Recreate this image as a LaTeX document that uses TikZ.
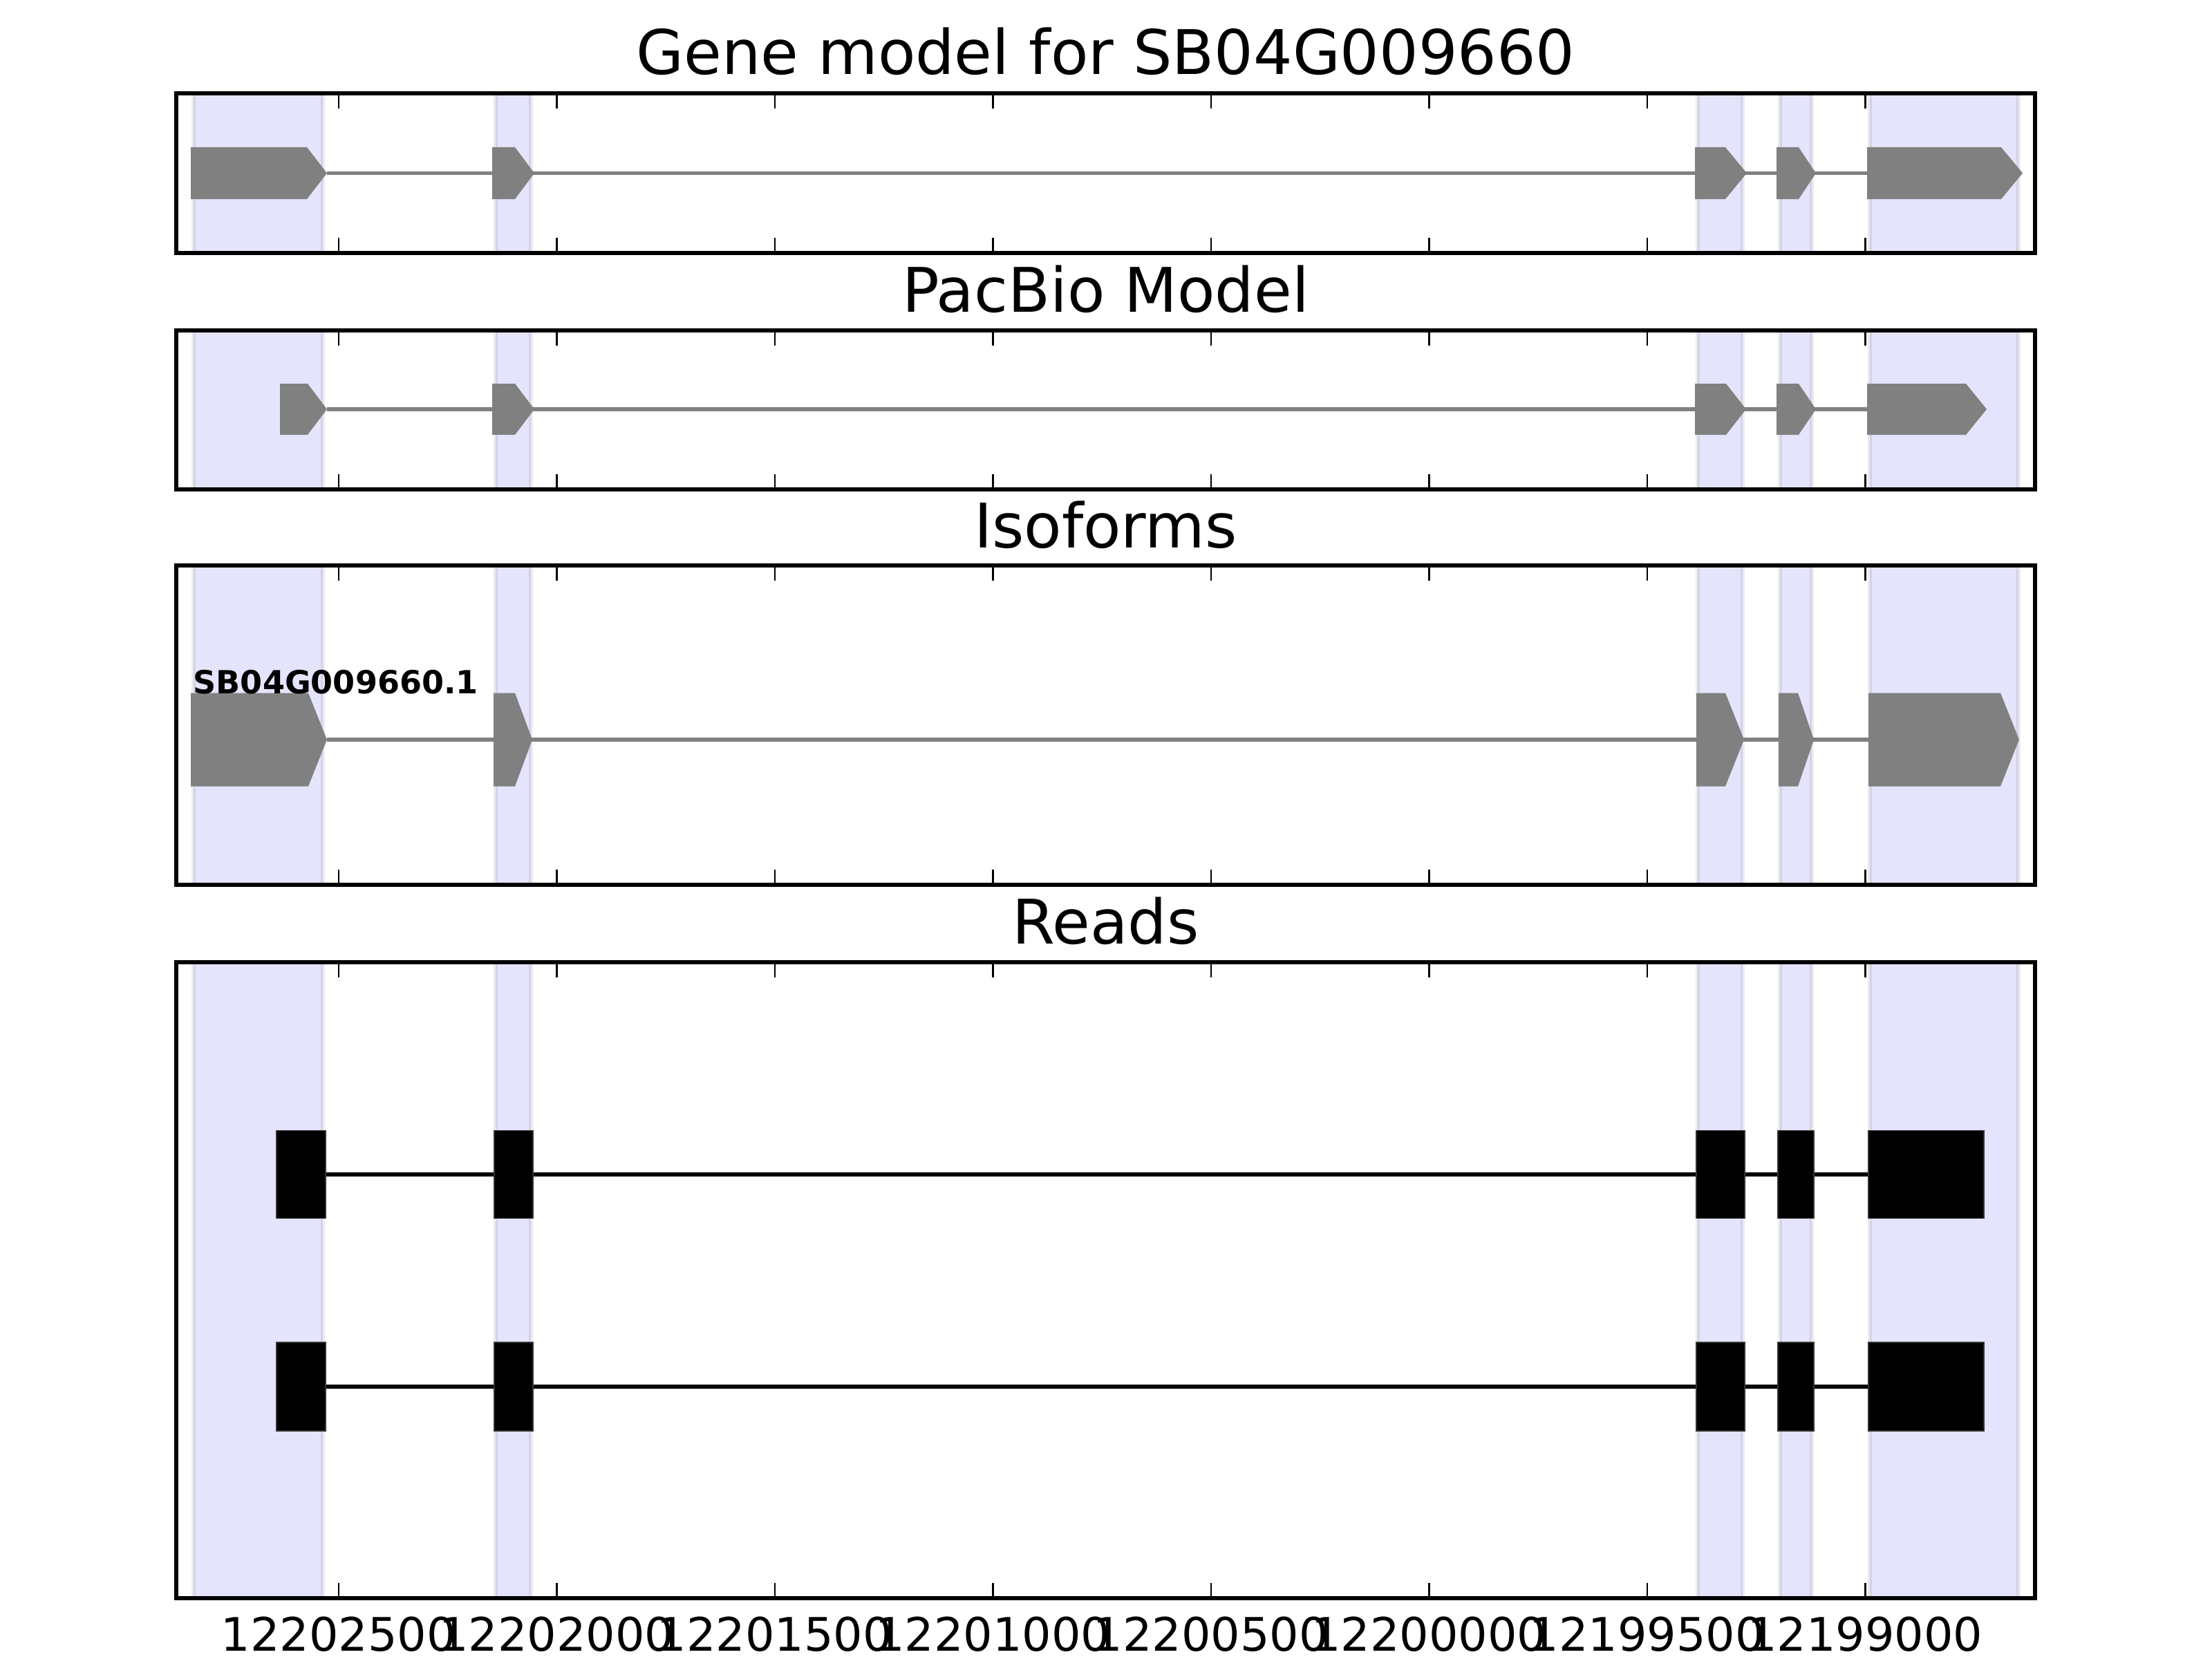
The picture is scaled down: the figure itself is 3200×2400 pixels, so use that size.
\documentclass[tikz,border=0pt]{standalone}
\usepackage{fontspec}
\setmainfont{DejaVu Sans}
\usepackage{tikz}
\definecolor{exongray}{RGB}{128,128,128}
\definecolor{spanblue}{RGB}{228,228,252}

% arrow-shaped exon: left, start of point, tip, centre line, half height
\newcommand{\exonarrow}[5]{%
  \fill[exon] (#1,#4-#5) -- (#2,#4-#5) -- (#3,#4) -- (#2,#4+#5) -- (#1,#4+#5) -- cycle;}
% read block: left, right, centre line, half height
\newcommand{\readblock}[4]{%
  \draw[readexon] (#1,#3-#4) rectangle (#2,#3+#4);}

\begin{document}
\begin{tikzpicture}[
    x=0.01cm, y=-0.01cm,
    panelframe/.style={draw, line width=1.5pt},
    tickmark/.style={line width=0.8pt},
    exonspan/.style={fill=spanblue, draw=black, draw opacity=0.08, line width=1.5pt},
    exon/.style={fill=exongray},
    intron/.style={draw=exongray, line width=1.5pt},
    readexon/.style={fill=black, draw=black!80, line width=0.4pt},
    readline/.style={draw=black, line width=1.5pt},
    paneltitle/.style={font=\fontsize{25.3}{30}\selectfont, anchor=base, inner sep=0pt},
    ticklabel/.style={font=\fontsize{19}{22}\selectfont, anchor=base, inner sep=0pt},
    isolabel/.style={font=\fontsize{13.1}{15}\selectfont\bfseries, anchor=base west, inner sep=0pt}
]
\useasboundingbox (0,0) rectangle (3200,2400);

% shaded exon regions in every panel
\foreach \ytop/\ybot in {135/366, 478/708, 818/1280, 1392/2312} {
  \foreach \xa/\xb in {280/467, 717/768, 2456/2521, 2575/2621, 2705/2920}
    \draw[exonspan] (\xa,\ytop) rectangle (\xb,\ybot);
}

% titles
\node[paneltitle] (t1) at (1599.5,108) {Gene model for SB04G009660};
\node[paneltitle] (t2) at (1599.5,451) {PacBio Model};
\node[paneltitle] (t3) at (1599.5,792) {Isoforms};
\node[paneltitle] (t4) at (1599.5,1365) {Reads};

% gene model
\coordinate (g0) at (473,250.5);
\coordinate (g1) at (2701,250.5);
\draw[intron] (g0) -- (g1);
\exonarrow{276}{444}{473}{250.5}{37.5}
\exonarrow{712}{745}{773}{250.5}{37.5}
\exonarrow{2452}{2496}{2527}{250.5}{37.5}
\exonarrow{2570}{2602}{2627}{250.5}{37.5}
\exonarrow{2701}{2895}{2926}{250.5}{37.5}

% pacbio model
\coordinate (p0) at (473,592);
\coordinate (p1) at (2701,592);
\draw[intron] (p0) -- (p1);
\exonarrow{405}{445}{473}{592}{37}
\exonarrow{712}{745}{773}{592}{37}
\exonarrow{2452}{2497}{2526}{592}{37}
\exonarrow{2570}{2602}{2627}{592}{37}
\exonarrow{2701}{2844}{2874}{592}{37}

% isoforms
\coordinate (i0) at (473,1070);
\coordinate (i1) at (2703,1070);
\draw[intron] (i0) -- (i1);
\exonarrow{276}{446}{473}{1070}{67.5}
\exonarrow{714}{745}{770}{1070}{67.5}
\exonarrow{2454}{2496}{2523}{1070}{67.5}
\exonarrow{2573}{2601}{2624}{1070}{67.5}
\exonarrow{2703}{2894}{2921}{1070}{67.5}
\node[isolabel] (iso1) at (279,1003) {SB04G009660.1};

% reads
\coordinate (r0) at (400,1699);
\coordinate (r1) at (2871,1699);
\draw[readline] (r0) -- (r1);
\readblock{400}{471}{1699}{63.5}
\readblock{715}{771}{1699}{63.5}
\readblock{2454}{2524}{1699}{63.5}
\readblock{2572}{2624}{1699}{63.5}
\readblock{2703}{2870}{1699}{63.5}

\coordinate (s0) at (400,2006);
\coordinate (s1) at (2871,2006);
\draw[readline] (s0) -- (s1);
\readblock{400}{471}{2006}{64}
\readblock{715}{771}{2006}{64}
\readblock{2454}{2524}{2006}{64}
\readblock{2572}{2624}{2006}{64}
\readblock{2703}{2870}{2006}{64}

% frames and ticks
\foreach \ytop/\ybot in {135/366, 478/708, 818/1280, 1392/2312} {
  \draw[panelframe] (255,\ytop) rectangle (2944,\ybot);
  \foreach \x in {490,805.5,1121,1436.5,1752,2067.5,2383,2698.5} {
    \draw[tickmark] (\x,\ytop) -- ++(0,22);
    \draw[tickmark] (\x,\ybot) -- ++(0,-22);
  }
}

% axis labels
\foreach \x/\lab in {490/12202500, 805.5/12202000, 1121/12201500, 1436.5/12201000,
                     1752/12200500, 2067.5/12200000, 2383/12199500, 2698.5/12199000}
  \node[ticklabel] (x\lab) at (\x,2388) {\lab};
\end{tikzpicture}
\end{document}
